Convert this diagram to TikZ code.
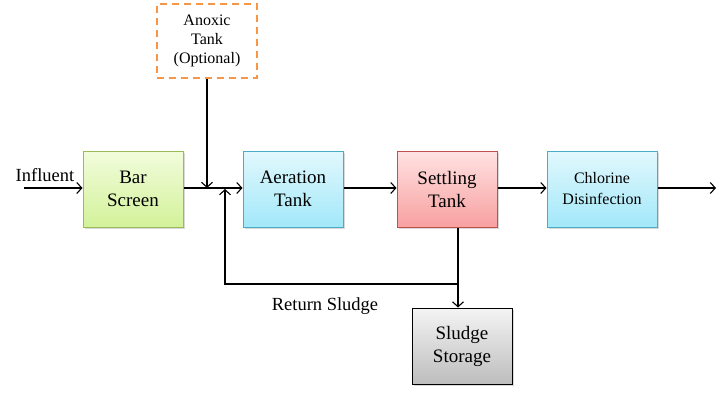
\documentclass[tikz,border=0pt]{standalone}
\usepackage{fontspec}
\setmainfont{Liberation Serif}
\usetikzlibrary{arrows.meta,shadows,calc}
\definecolor{grnT}{HTML}{F2FCDC}\definecolor{grnB}{HTML}{D3F29A}\definecolor{grnD}{HTML}{9BBB59}
\definecolor{bluT}{HTML}{E2F8FD}\definecolor{bluB}{HTML}{A2E8F9}\definecolor{bluD}{HTML}{4BACC6}
\definecolor{redT}{HTML}{FFE2E2}\definecolor{redB}{HTML}{F8A0A0}\definecolor{redD}{HTML}{C0504D}
\definecolor{gryT}{HTML}{F4F4F4}\definecolor{gryB}{HTML}{BDBDBD}
\definecolor{orn}{HTML}{F79646}
\tikzset{
  box/.style={draw, line width=1pt, minimum width=100pt, minimum height=76pt, align=center, inner sep=2pt,
    drop shadow={shadow xshift=1.5pt, shadow yshift=-1.5pt, opacity=0.3}, font=\fontsize{19}{23}\selectfont},
  gbox/.style={box, draw=grnD, top color=grnT, bottom color=grnB},
  bbox/.style={box, draw=bluD, top color=bluT, bottom color=bluB},
  rbox/.style={box, draw=redD, top color=redT, bottom color=redB},
  kbox/.style={box, draw=black, top color=gryT, bottom color=gryB},
  flow/.style={line width=1.1pt, -{Straight Barb[length=5pt,width=11pt]}},
  lbl/.style={font=\fontsize{18.5}{22}\selectfont, inner sep=0pt}
}
\begin{document}
\begin{tikzpicture}[x=1pt,y=-1pt]
\useasboundingbox (0,0) rectangle (726,392);
\node[draw=orn, dash pattern=on 7pt off 5pt, line width=1.1pt, minimum width=100pt, minimum height=74pt, align=center, font=\fontsize{16}{19}\selectfont, fill=white] (anox) at (207,41) {Anoxic\\Tank\\(Optional)};
\node[gbox] (bar) at (133,189) {Bar\\Screen};
\node[bbox] (aer) at (293,189) {Aeration\\Tank};
\node[rbox] (set) at (447,189) {Settling\\Tank};
\node[bbox, minimum width=110pt, font=\fontsize{16}{21}\selectfont] (chl) at (602,189) {Chlorine\\Disinfection};
\node[kbox] (slu) at (462,346) {Sludge\\Storage};
\node[lbl] (infl) at (45,175) {Influent};
\node[lbl] (ret) at (325,306) {Return Sludge};
\coordinate (in) at (24,188);
\coordinate (out) at (716,188);
\coordinate (j1) at (207,188);
\coordinate (j2) at (225,188);
\coordinate (rc) at (458,284);
\coordinate (lc) at (225,284);
\draw[flow] (in) -- (in -| bar.west);
\draw[flow] (bar.east |- in) -- (aer.west |- in);
\draw[flow] (anox.south) -- (j1);
\draw[flow] (aer.east |- in) -- (set.west |- in);
\draw[flow] (set.east |- in) -- (chl.west |- in);
\draw[flow] (chl.east |- in) -- (out);
\draw[flow] (set.south -| rc) -- (slu.north -| rc);
\draw[flow] (rc) -- (lc) -- ($(j2)+(0,1)$);
\end{tikzpicture}
\end{document}
